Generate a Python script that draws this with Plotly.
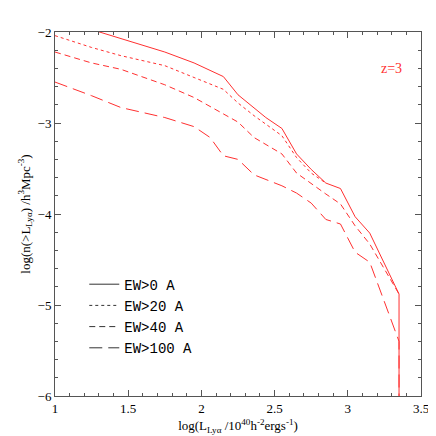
import plotly.graph_objects as go

# log L (x) and log n(>L) (y)
x_ew0 = [1.0, 1.30, 1.75, 1.95, 2.06, 2.15, 2.25, 2.36, 2.44, 2.55, 2.65, 2.75, 2.85, 2.95, 3.05, 3.15, 3.35, 3.35]
y_ew0 = [-1.85, -2.0, -2.22, -2.34, -2.42, -2.49, -2.69, -2.83, -2.94, -3.06, -3.34, -3.51, -3.66, -3.72, -4.03, -4.21, -4.88, -6.0]

x_ew20 = [1.0, 1.25, 1.45, 1.75, 1.95, 2.15, 2.25, 2.36, 2.55, 2.65, 2.75, 2.85]
y_ew20 = [-2.04, -2.17, -2.26, -2.37, -2.50, -2.63, -2.78, -2.92, -3.14, -3.38, -3.55, -3.66]

x_ew40 = [1.0, 1.25, 1.45, 1.75, 1.95, 2.15, 2.25, 2.36, 2.55, 2.65, 2.75, 2.85, 2.95, 3.05, 3.15, 3.35]
y_ew40 = [-2.22, -2.34, -2.41, -2.58, -2.72, -2.90, -2.99, -3.16, -3.34, -3.55, -3.67, -3.78, -3.89, -4.13, -4.33, -4.88]

x_ew100 = [1.0, 1.25, 1.45, 1.75, 1.95, 2.06, 2.15, 2.25, 2.36, 2.55, 2.65, 2.75, 2.85, 2.95, 3.05, 3.15, 3.35, 3.35]
y_ew100 = [-2.55, -2.70, -2.83, -2.94, -3.04, -3.16, -3.36, -3.40, -3.57, -3.69, -3.77, -3.88, -4.06, -4.11, -4.42, -4.53, -5.40, -6.0]

red = "#ff3030"
font = "Liberation Serif"

fig = go.Figure()
series = [
    (x_ew0, y_ew0, "EW>0 A", "solid"),
    (x_ew20, y_ew20, "EW>20 A", "dot"),
    (x_ew40, y_ew40, "EW>40 A", "6px,4px"),
    (x_ew100, y_ew100, "EW>100 A", "13px,6px"),
]
for xs, ys, name, dash in series:
    fig.add_trace(go.Scatter(x=xs, y=ys, mode="lines", showlegend=False,
                             line=dict(color=red, width=1, dash=dash)))
# legend keys are drawn black in the original
for xs, ys, name, dash in series:
    fig.add_trace(go.Scatter(x=[None], y=[None], mode="lines", name=name,
                             line=dict(color="#333", width=1, dash=dash)))

axis = dict(showgrid=False, zeroline=False, showline=True, linecolor="#555",
            linewidth=1, mirror="allticks", ticks="inside", ticklen=6,
            tickcolor="#555", automargin=False,
            tickfont=dict(family=font, size=13, color="black"))
fig.update_xaxes(range=[1, 3.5], tickvals=[1, 1.5, 2, 2.5, 3, 3.5],
                 minor=dict(dtick=0.1, ticks="inside", ticklen=3, tickcolor="#555"),
                 title=dict(text="log(L<sub>Lyα</sub> /10<sup>40</sup>h<sup>-2</sup>ergs<sup>-1</sup>)",
                            font=dict(family=font, size=13, color="black"), standoff=6),
                 **axis)
fig.update_yaxes(range=[-6, -2], tickvals=[-6, -5, -4, -3, -2],
                 minor=dict(dtick=0.2, ticks="inside", ticklen=3, tickcolor="#555"),
                 title=dict(text="log(n(>L<sub>Lyα</sub>) /h<sup>3</sup>Mpc<sup>-3</sup>)",
                            font=dict(family=font, size=13, color="black"), standoff=4),
                 **axis)
fig.add_annotation(x=3.3, y=-2.4, text="z=3", showarrow=False,
                   font=dict(family=font, size=14, color=red))
fig.update_layout(width=436, height=436, margin=dict(l=47, r=23, t=24, b=48),
                  plot_bgcolor="white", paper_bgcolor="white",
                  legend=dict(x=0.08, y=0.35, xanchor="left", yanchor="top",
                              bgcolor="rgba(0,0,0,0)", tracegroupgap=0,
                              font=dict(family="Liberation Mono", size=14, color="black")))
fig.write_html("out.html")
